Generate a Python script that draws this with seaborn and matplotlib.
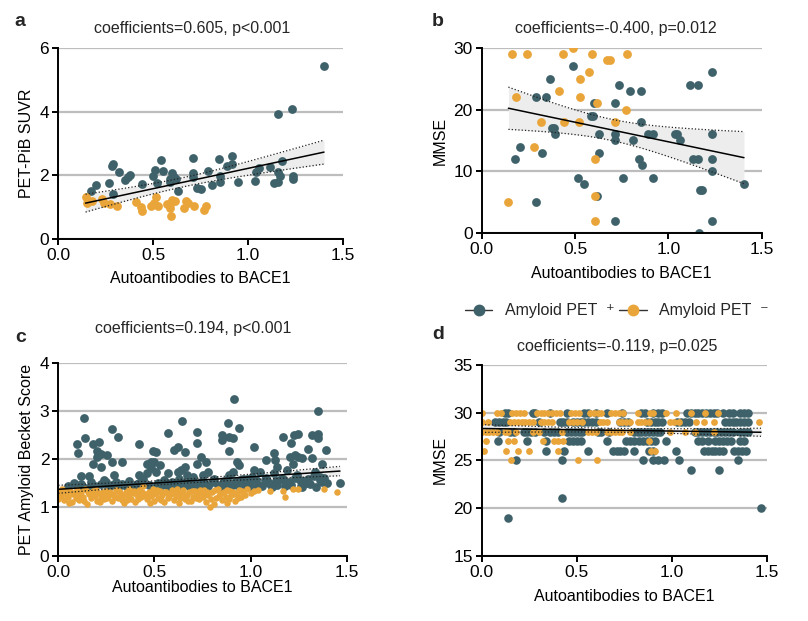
import numpy as np
import pandas as pd
import matplotlib
matplotlib.use("Agg")
import matplotlib.pyplot as plt
import seaborn as sns
from matplotlib.lines import Line2D

TEAL = "#3E616A"
ORANGE = "#E9A53A"

# panel a: PET-PiB SUVR vs autoantibodies (x, y)
a_pos = [(1.40, 5.45), (1.16, 3.93), (1.23, 4.09), (0.175, 1.51), (0.20, 1.70), (0.27, 1.76),
         (0.285, 2.29), (0.29, 2.36), (0.29, 1.42), (0.32, 2.09), (0.35, 1.85), (0.37, 1.96),
         (0.38, 2.01), (0.44, 1.73), (0.50, 1.99), (0.51, 2.17), (0.54, 2.47), (0.55, 2.14),
         (0.52, 1.75), (0.59, 1.80), (0.60, 2.07), (0.61, 1.96), (0.62, 1.89), (0.63, 1.52),
         (0.71, 2.56), (0.71, 2.07), (0.71, 1.96), (0.73, 1.60), (0.75, 1.57), (0.79, 2.15),
         (0.81, 1.70), (0.845, 2.52), (0.85, 1.99), (0.855, 1.80), (0.89, 2.30), (0.915, 2.62),
         (0.915, 2.36), (0.945, 1.80), (1.035, 1.83), (1.04, 2.09), (1.06, 2.24), (1.115, 2.26),
         (1.135, 1.76), (1.16, 1.78), (1.16, 2.10), (1.17, 1.98), (1.18, 2.45), (1.235, 1.99),
         (1.235, 1.89), (0.59, 1.90)]
a_neg = [(0.145, 1.33), (0.155, 1.12), (0.18, 1.20), (0.23, 1.25), (0.24, 1.14), (0.275, 1.09),
         (0.31, 1.05), (0.41, 1.15), (0.435, 1.02), (0.44, 0.88), (0.487, 1.05), (0.516, 1.33),
         (0.525, 1.05), (0.575, 1.09), (0.592, 1.09), (0.595, 0.72), (0.60, 1.22), (0.618, 1.20),
         (0.592, 0.96), (0.665, 0.96), (0.674, 1.18), (0.686, 1.12), (0.714, 1.05), (0.77, 0.91),
         (0.78, 1.05), (0.507, 1.14)]

# panel b: MMSE vs autoantibodies
b_pos = [(0.49, 27), (0.366, 25), (0.29, 22), (0.345, 22), (0.18, 12), (0.205, 14), (0.323, 13),
         (0.29, 5), (0.375, 17), (0.385, 17), (0.395, 16), (0.514, 9), (0.55, 8), (0.586, 19),
         (0.595, 19), (0.604, 21), (0.62, 6), (0.627, 16), (0.63, 13), (0.714, 21), (0.714, 16),
         (0.714, 15), (0.714, 2), (0.737, 24), (0.755, 9), (0.793, 23), (0.8125, 15), (0.845, 12),
         (0.852, 23), (0.855, 18), (0.86, 11), (0.893, 16), (0.92, 16), (0.916, 9), (1.036, 16),
         (1.045, 16), (1.06, 15), (1.116, 24), (1.16, 24), (1.134, 12), (1.16, 12), (1.166, 0),
         (1.17, 7), (1.18, 7), (1.232, 26), (1.236, 16), (1.236, 12), (1.236, 10), (1.232, 2),
         (1.405, 8)]
b_neg = [(0.143, 5), (0.164, 29), (0.184, 22), (0.241, 29), (0.28, 14), (0.318, 18), (0.416, 23),
         (0.4375, 29), (0.441, 18), (0.491, 30), (0.527, 25), (0.527, 22), (0.52, 18), (0.577, 26),
         (0.591, 29), (0.605, 12), (0.605, 6), (0.605, 2), (0.616, 21), (0.673, 28), (0.6875, 28),
         (0.714, 18), (0.771, 20), (0.78, 29)]

# panel c: PET amyloid Becket score
c_pos = [(0.133, 2.86), (0.099, 2.31), (0.139, 2.43), (0.10, 2.12), (0.12, 1.65), (0.16, 1.65),
         (0.18, 2.31), (0.21, 2.36), (0.20, 2.17), (0.22, 2.10), (0.18, 1.91), (0.22, 1.84),
         (0.20, 2.05), (0.28, 2.62), (0.31, 2.45), (0.255, 2.09), (0.28, 1.95), (0.33, 1.95),
         (0.29, 1.67), (0.25, 1.53), (0.42, 2.31), (0.42, 1.67), (0.42, 1.50), (0.46, 1.91),
         (0.49, 2.18), (0.51, 2.14), (0.48, 1.95), (0.50, 1.95), (0.53, 1.88), (0.48, 1.81),
         (0.46, 1.72), (0.51, 1.74), (0.57, 2.55), (0.62, 2.26), (0.60, 2.19), (0.645, 2.79),
         (0.66, 2.14), (0.64, 1.78), (0.66, 1.84), (0.62, 1.74), (0.57, 1.71), (0.67, 1.67),
         (0.72, 2.57), (0.72, 2.33), (0.74, 2.05), (0.72, 1.91), (0.77, 1.95), (0.78, 1.74),
         (0.755, 1.67), (0.70, 1.64), (0.74, 1.53), (0.915, 3.24), (0.85, 2.50), (0.85, 2.40),
         (0.885, 2.74), (0.89, 2.47), (0.91, 2.43), (0.89, 2.17), (0.94, 2.64), (0.93, 1.95),
         (0.94, 1.88), (0.91, 1.74), (0.89, 1.67), (0.875, 1.57), (0.945, 1.57), (1.02, 2.26),
         (1.02, 1.78), (1.05, 1.74), (1.01, 1.64), (0.98, 1.60), (1.075, 1.57), (1.12, 2.12),
         (1.08, 1.98), (1.125, 1.98), (1.135, 1.84), (1.12, 1.71), (1.09, 1.53), (1.17, 2.47),
         (1.17, 1.60), (1.19, 1.78), (1.225, 2.50), (1.21, 2.33), (1.245, 2.52), (1.205, 2.05),
         (1.23, 2.09), (1.245, 2.05), (1.265, 2.02), (1.22, 1.91), (1.24, 1.67), (1.255, 1.57),
         (1.27, 1.43), (1.30, 2.22), (1.317, 2.02), (1.32, 2.50), (1.35, 2.53), (1.35, 3.00),
         (1.35, 2.43), (1.37, 1.91), (1.39, 2.19), (1.36, 1.64), (1.37, 1.53), (1.465, 1.51),
         (1.335, 1.74), (1.29, 1.50),
         (0.05, 1.45), (0.08, 1.50), (0.10, 1.42), (0.12, 1.48), (0.15, 1.40), (0.17, 1.52),
         (0.19, 1.44), (0.22, 1.49), (0.24, 1.56), (0.26, 1.43), (0.28, 1.47), (0.30, 1.53),
         (0.31, 1.41), (0.33, 1.49), (0.35, 1.45), (0.37, 1.55), (0.39, 1.42), (0.41, 1.48),
         (0.43, 1.52), (0.44, 1.60), (0.47, 1.46), (0.49, 1.41), (0.52, 1.50), (0.53, 1.44),
         (0.55, 1.56), (0.56, 1.47), (0.58, 1.42), (0.59, 1.52), (0.61, 1.46), (0.63, 1.58),
         (0.64, 1.43), (0.66, 1.50), (0.68, 1.45), (0.69, 1.62), (0.71, 1.48), (0.73, 1.42),
         (0.75, 1.55), (0.76, 1.47), (0.78, 1.44), (0.80, 1.52), (0.81, 1.60), (0.83, 1.46),
         (0.84, 1.41), (0.86, 1.55), (0.87, 1.48), (0.90, 1.44), (0.92, 1.52), (0.93, 1.46),
         (0.96, 1.58), (0.97, 1.45), (0.99, 1.50), (1.00, 1.42), (1.03, 1.56), (1.04, 1.47),
         (1.06, 1.44), (1.08, 1.61), (1.10, 1.49), (1.11, 1.42), (1.13, 1.55), (1.14, 1.46),
         (1.16, 1.58), (1.18, 1.44), (1.20, 1.52), (1.21, 1.47), (1.23, 1.62), (1.26, 1.45),
         (1.28, 1.55), (1.30, 1.60), (1.31, 1.48), (1.33, 1.65), (1.34, 1.42), (1.36, 1.57),
         (1.38, 1.62), (1.40, 1.50)]
c_neg = [(0.00, 1.32), (0.00, 1.18), (0.01, 1.25), (0.02, 1.38), (0.03, 1.15), (0.04, 1.28),
         (0.05, 1.22), (0.06, 1.35), (0.07, 1.12), (0.08, 1.30), (0.09, 1.20), (0.10, 1.26),
         (0.11, 1.16), (0.12, 1.33), (0.13, 1.22), (0.14, 1.38), (0.15, 1.08), (0.16, 1.28),
         (0.17, 1.19), (0.18, 1.34), (0.19, 1.24), (0.20, 1.14), (0.21, 1.30), (0.22, 1.20),
         (0.23, 1.27), (0.24, 1.17), (0.25, 1.35), (0.26, 1.23), (0.27, 1.31), (0.28, 1.13),
         (0.29, 1.26), (0.30, 1.37), (0.31, 1.20), (0.32, 1.29), (0.33, 1.16), (0.34, 1.10),
         (0.35, 1.33), (0.36, 1.24), (0.37, 1.38), (0.38, 1.18), (0.39, 1.30), (0.40, 1.12),
         (0.41, 1.26), (0.42, 1.36), (0.43, 1.21), (0.44, 1.44), (0.45, 1.28), (0.46, 1.17),
         (0.47, 1.33), (0.48, 1.23), (0.49, 1.38), (0.50, 1.14), (0.51, 1.29), (0.52, 1.20),
         (0.53, 1.35), (0.54, 1.25), (0.55, 1.12), (0.56, 1.31), (0.57, 1.19), (0.58, 1.27),
         (0.59, 1.37), (0.60, 1.15), (0.61, 1.24), (0.62, 1.33), (0.63, 1.10), (0.64, 1.28),
         (0.65, 1.36), (0.66, 1.18), (0.67, 1.26), (0.68, 1.32), (0.69, 1.13), (0.70, 1.22),
         (0.71, 1.35), (0.72, 1.27), (0.73, 1.17), (0.74, 1.30), (0.75, 1.21), (0.76, 1.37),
         (0.77, 1.12), (0.78, 1.25), (0.79, 1.00), (0.80, 1.33), (0.81, 1.08), (0.82, 1.20),
         (0.83, 1.38), (0.84, 1.28), (0.85, 1.15), (0.86, 1.31), (0.87, 1.22), (0.88, 1.36),
         (0.89, 1.18), (0.90, 1.26), (0.91, 1.33), (0.92, 1.14), (0.93, 1.29), (0.94, 1.37),
         (0.95, 1.21), (0.96, 1.32), (0.97, 1.25), (0.98, 1.38), (1.00, 1.30), (1.02, 1.34),
         (1.04, 1.36), (1.10, 1.34), (1.17, 1.34), (1.18, 1.22), (1.22, 1.38), (1.245, 1.38),
         (1.38, 1.38), (1.45, 1.31),
         (0.015, 1.24), (0.035, 1.34), (0.055, 1.10), (0.075, 1.27), (0.095, 1.36), (0.115, 1.21),
         (0.135, 1.14), (0.155, 1.31), (0.175, 1.26), (0.195, 1.37), (0.215, 1.11), (0.235, 1.33),
         (0.255, 1.19), (0.275, 1.28), (0.295, 1.22), (0.315, 1.34), (0.335, 1.25), (0.355, 1.15),
         (0.375, 1.29), (0.395, 1.35), (0.415, 1.18), (0.435, 1.31), (0.455, 1.24), (0.475, 1.09),
         (0.495, 1.27), (0.515, 1.36), (0.535, 1.16), (0.555, 1.32), (0.575, 1.23), (0.595, 1.29),
         (0.615, 1.38), (0.635, 1.20), (0.655, 1.26), (0.675, 1.14), (0.695, 1.34), (0.715, 1.19),
         (0.735, 1.36), (0.755, 1.28), (0.775, 1.31), (0.795, 1.17), (0.815, 1.36), (0.835, 1.24),
         (0.855, 1.30), (0.875, 1.10), (0.895, 1.34), (0.915, 1.27), (0.935, 1.19), (0.955, 1.35)]

# panel d: MMSE (integer rows) -> autoantibody values per row
d_pos_30 = [0.12, 0.14, 0.27, 0.28, 0.36, 0.45, 0.54, 0.56, 0.60, 0.66, 0.74, 0.84, 0.86, 0.90,
            0.93, 0.95, 1.08, 1.10, 1.12, 1.14, 1.16, 1.18, 1.20, 1.22, 1.24, 1.27, 1.30, 1.32,
            1.36, 1.38, 1.40]
d_pos_29 = [0.07, 0.09, 0.11, 0.13, 0.30, 0.41, 0.43, 0.45, 0.48, 0.50, 0.52, 0.54, 0.56, 0.58,
            0.60, 0.73, 0.75, 0.77, 0.87, 0.89, 0.91, 0.93, 0.95, 1.03, 1.05, 1.07, 1.09, 1.28,
            1.30, 1.32, 1.34, 1.36, 1.38, 1.40]
d_pos_28 = [0.09, 0.15, 0.17, 0.22, 0.24, 0.26, 0.28, 0.33, 0.36, 0.38, 0.40, 0.45, 0.47, 0.49,
            0.51, 0.53, 0.61, 0.63, 0.67, 0.80, 0.82, 0.84, 0.86, 0.88, 0.90, 0.92, 0.94, 1.12,
            1.14, 1.16, 1.18, 1.20, 1.22, 1.24, 1.26, 1.28, 1.30, 1.32, 1.36, 1.38, 1.40]
d_pos_27 = [0.085, 0.24, 0.34, 0.46, 0.48, 0.50, 0.52, 0.66, 0.76, 0.78, 0.80, 0.83, 0.85, 0.87,
            0.89, 0.91, 0.97, 1.14, 1.16, 1.19, 1.23, 1.25, 1.27, 1.29, 1.31, 1.36, 1.38]
d_pos_26 = [0.337, 0.435, 0.56, 0.69, 0.71, 0.73, 0.75, 0.80, 0.88, 0.90, 1.02, 1.17, 1.19, 1.21,
            1.23, 1.25, 1.27, 1.33, 1.35, 1.37, 1.39]
d_pos_25 = [0.18, 0.42, 0.85, 0.90, 0.93, 0.96, 1.04, 1.35]
d_pos_24 = [1.10, 1.25]
d_pos_21 = [0.42]
d_pos_20 = [1.47]
d_pos_19 = [0.137]

d_neg_30 = [0.0, 0.08, 0.10, 0.16, 0.18, 0.20, 0.22, 0.29, 0.31, 0.33, 0.35, 0.37, 0.39, 0.41,
            0.47, 0.49, 0.51, 0.57, 0.59, 0.61, 0.63, 0.68, 0.70, 0.72, 0.745, 0.82, 0.885, 0.90,
            0.97, 1.02, 1.10, 1.175, 1.245]
d_neg_29 = [0.0, 0.035, 0.15, 0.17, 0.19, 0.21, 0.23, 0.25, 0.27, 0.31, 0.33, 0.35, 0.37, 0.46,
            0.48, 0.50, 0.53, 0.62, 0.64, 0.66, 0.72, 0.74, 0.76, 0.78, 0.82, 0.84, 0.86, 0.88,
            0.99, 1.01, 1.04, 1.13, 1.17, 1.22, 1.46]
d_neg_28 = [0.0, 0.02, 0.04, 0.06, 0.08, 0.12, 0.14, 0.18, 0.27, 0.30, 0.42, 0.56, 0.58, 0.60,
            0.66, 0.68, 0.70, 0.72, 0.74, 0.78, 0.99, 1.07, 1.12, 1.22]
d_neg_27 = [0.02, 0.14, 0.17, 0.32, 0.38, 0.40, 0.43, 0.88]
d_neg_26 = [0.01, 0.126, 0.19, 0.25, 0.40, 0.89, 0.91]
d_neg_25 = [0.154, 0.505, 0.605]

xlabel = "Autoantibodies to BACE1"
titles = ["coefficients=0.605, p<0.001", "coefficients=-0.400, p=0.012",
          "coefficients=0.194, p<0.001", "coefficients=-0.119, p=0.025"]


def rows_to_df(rows):
    xs, ys = [], []
    for yv, vals in rows:
        xs += vals
        ys += [yv] * len(vals)
    return pd.DataFrame({"x": xs, "y": ys})


def pts_to_df(pts):
    return pd.DataFrame(pts, columns=["x", "y"])


d_pos = rows_to_df([(30, d_pos_30), (29, d_pos_29), (28, d_pos_28), (27, d_pos_27), (26, d_pos_26),
                    (25, d_pos_25), (24, d_pos_24), (21, d_pos_21), (20, d_pos_20), (19, d_pos_19)])
d_neg = rows_to_df([(30, d_neg_30), (29, d_neg_29), (28, d_neg_28), (27, d_neg_27), (26, d_neg_26),
                    (25, d_neg_25)])


def reg_band(ax, pos, neg):
    # linear fit over both groups with 95% CI of the mean
    df = pd.concat([pos, neg])
    x, y = df["x"].values, df["y"].values
    n = len(x)
    slope, icpt = np.polyfit(x, y, 1)
    xs = np.linspace(x.min(), x.max(), 100)
    yhat = icpt + slope * xs
    s = np.sqrt(np.sum((y - (icpt + slope * x)) ** 2) / (n - 2))
    se = s * np.sqrt(1 / n + (xs - x.mean()) ** 2 / np.sum((x - x.mean()) ** 2))
    ax.fill_between(xs, yhat - 1.98 * se, yhat + 1.98 * se, color="#EDEDED", lw=0, zorder=1)
    ax.plot(xs, yhat - 1.98 * se, ls=":", color="#222222", lw=0.9, zorder=5)
    ax.plot(xs, yhat + 1.98 * se, ls=":", color="#222222", lw=0.9, zorder=5)
    ax.plot(xs, yhat, color="black", lw=1.1, zorder=5)


sns.set_theme(style="white")
plt.rcParams["font.family"] = ["Liberation Sans", "DejaVu Sans"]

fig = plt.figure(figsize=(8.08, 6.21), dpi=100)
W, H = 808, 621

panels = [
    dict(rect=[58, 239, 343, 48], data=(pts_to_df(a_pos), pts_to_df(a_neg)), ylim=(0, 6),
         yticks=[0, 2, 4, 6], ylabel="PET-PiB SUVR", sizes=(40, 40), letter="a",
         lpos=(20, 22), tpos=(192, 29), xlpad=6),
    dict(rect=[481.7, 233.3, 761.7, 47.7], data=(pts_to_df(b_pos), pts_to_df(b_neg)), ylim=(0, 30),
         yticks=[0, 10, 20, 30], ylabel="MMSE", sizes=(40, 40), letter="b",
         lpos=(438, 22), tpos=(616, 29), xlpad=6),
    dict(rect=[58.3, 555.7, 346.7, 362.7], data=(pts_to_df(c_pos), pts_to_df(c_neg)), ylim=(0, 4),
         yticks=[0, 1, 2, 3, 4], ylabel="PET Amyloid Becket Score", sizes=(40, 22), letter="c",
         lpos=(21, 337), tpos=(193, 329), xlpad=0),
    dict(rect=[481.7, 555.7, 766.7, 365], data=(d_pos, d_neg), ylim=(15, 35),
         yticks=[15, 20, 25, 30, 35], ylabel="MMSE", sizes=(38, 24), letter="d",
         lpos=(438, 335), tpos=(617, 346), xlpad=7),
]

for i, p in enumerate(panels):
    x0, y0, x1, y1 = p["rect"]
    ax = fig.add_axes([x0 / W, 1 - y0 / H, (x1 - x0) / W, (y0 - y1) / H])
    pos, neg = p["data"]
    sns.scatterplot(data=pos, x="x", y="y", color=TEAL, s=p["sizes"][0], linewidth=0, ax=ax, zorder=3)
    sns.scatterplot(data=neg, x="x", y="y", color=ORANGE, s=p["sizes"][1], linewidth=0, ax=ax, zorder=4)
    reg_band(ax, pos, neg)
    ax.set_xlim(0, 1.5)
    ax.set_ylim(*p["ylim"])
    ax.set_xticks([0, 0.5, 1.0, 1.5])
    ax.set_xticklabels(["0.0", "0.5", "1.0", "1.5"])
    ax.set_yticks(p["yticks"])
    ax.yaxis.grid(True, color="#BDBDBD", lw=1.6)
    ax.xaxis.grid(False)
    ax.set_axisbelow(True)
    for side in ["top", "right"]:
        ax.spines[side].set_visible(False)
    for side in ["left", "bottom"]:
        ax.spines[side].set_color("black")
        ax.spines[side].set_linewidth(1.4)
        ax.spines[side].set_zorder(6)
    ax.tick_params(axis="both", direction="out", length=4.5, width=1.4, color="black",
                   labelsize=12.5, labelcolor="black", pad=2, left=True, bottom=True)
    ax.set_xlabel(xlabel, fontsize=11.5, labelpad=p["xlpad"], color="black")
    ax.set_ylabel(p["ylabel"], fontsize=11.5, color="black")
    fig.text(p["tpos"][0] / W, 1 - p["tpos"][1] / H, titles[i], fontsize=11.5,
             ha="center", va="center")
    fig.text(p["lpos"][0] / W, 1 - p["lpos"][1] / H, p["letter"], fontsize=14,
             fontweight="bold", ha="center", va="center")

handles = [Line2D([0], [0], color="#333333", lw=1, marker="o", markersize=7.5,
                  markerfacecolor=TEAL, markeredgecolor=TEAL),
           Line2D([0], [0], color="#333333", lw=1, marker="o", markersize=7.5,
                  markerfacecolor=ORANGE, markeredgecolor=ORANGE)]
fig.legend(handles, ["Amyloid PET  \u207a", "Amyloid PET  \u207b"], loc="center",
           bbox_to_anchor=(617 / W, 1 - 310.7 / H), ncol=2, frameon=False, fontsize=11.5,
           handlelength=1.7, handletextpad=0.8, columnspacing=0.3)

fig.savefig("out.png", dpi=100)
